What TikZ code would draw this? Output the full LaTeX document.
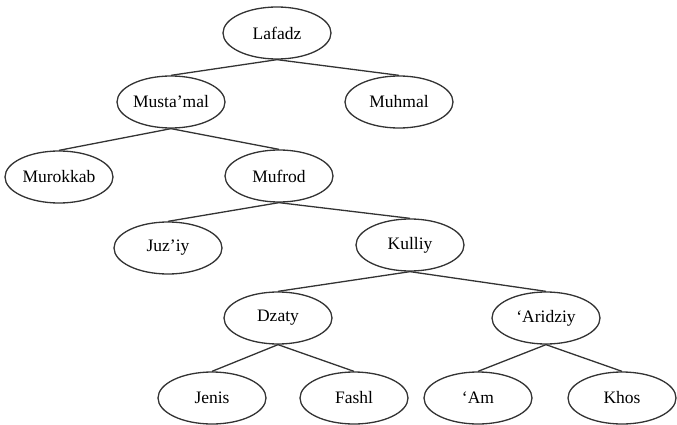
\documentclass[tikz,border=0pt]{standalone}
\usepackage{fontspec}
\setmainfont{Liberation Serif}
\usetikzlibrary{shapes.geometric}
\tikzset{
  term/.style={ellipse, draw=black!80, line width=1.3pt, minimum width=108pt, minimum height=52pt, inner sep=0pt, font=\fontsize{17.5}{20}\selectfont},
  link/.style={draw=black!80, line width=1.3pt}
}
\begin{document}
\begin{tikzpicture}[x=1pt,y=-1pt]
\useasboundingbox (0,0) rectangle (677,425);
\node[term] (lafadz) at (277,33) {Lafadz};
\node[term] (mustamal) at (171,102) {Musta’mal};
\node[term] (muhmal) at (399,102) {Muhmal};
\node[term] (murokkab) at (59,177) {Murokkab};
\node[term] (mufrod) at (279,176) {Mufrod};
\node[term] (juziy) at (168,248) {Juz’iy};
\node[term] (kulliy) at (410,245) {Kulliy};
\node[term] (dzaty) at (278,318) {Dzaty};
\node[term] (aridziy) at (546,318) {‘Aridziy};
\node[term] (jenis) at (212,398) {Jenis};
\node[term] (fashl) at (354,398) {Fashl};
\node[term] (am) at (478,398) {‘Am};
\node[term] (khos) at (622,398) {Khos};
\draw[link] (lafadz.south) -- (mustamal.north);
\draw[link] (lafadz.south) -- (muhmal.north);
\draw[link] (mustamal.south) -- (murokkab.north);
\draw[link] (mustamal.south) -- (mufrod.north);
\draw[link] (mufrod.south) -- (juziy.north);
\draw[link] (mufrod.south) -- (kulliy.north);
\draw[link] (kulliy.south) -- (dzaty.north);
\draw[link] (kulliy.south) -- (aridziy.north);
\draw[link] (dzaty.south) -- (jenis.north);
\draw[link] (dzaty.south) -- (fashl.north);
\draw[link] (aridziy.south) -- (am.north);
\draw[link] (aridziy.south) -- (khos.north);
\end{tikzpicture}
\end{document}
